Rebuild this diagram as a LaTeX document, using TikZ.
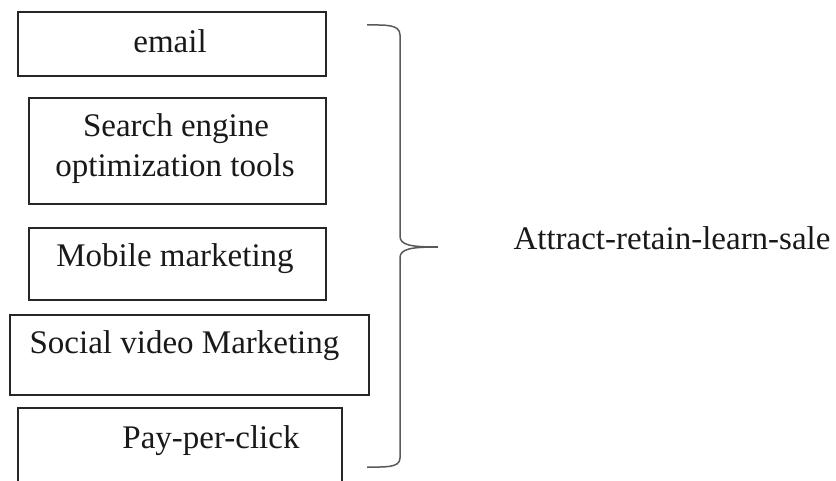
\documentclass[tikz,border=0pt]{standalone}
\usepackage{fontspec}
\setmainfont{Liberation Serif}
\begin{document}
\begin{tikzpicture}[x=1pt,y=-1pt,
  itembox/.style={draw=black!85, line width=1.7pt, inner sep=0pt, anchor=north west},
  lbl/.style={anchor=base, inner sep=0pt, text=black!90, font=\fontsize{33}{40}\selectfont},
  bracestyle/.style={draw=black!65, line width=1.5pt}]
\useasboundingbox (0,0) rectangle (836,481);
% boxes
\node[itembox, minimum width=308pt, minimum height=64pt] (b1) at (17,11) {};
\node[itembox, minimum width=297pt, minimum height=106pt] (b2) at (28,97) {};
\node[itembox, minimum width=297pt, minimum height=72pt] (b3) at (28,227) {};
\node[itembox, minimum width=359pt, minimum height=80pt] (b4) at (9,314) {};
\node[itembox, minimum width=324pt, minimum height=80pt] (b5) at (17,407) {};
% texts
\node[lbl] (t1) at (170,53) {email};
\node[lbl] (t2a) at (176,137) {Search engine};
\node[lbl] (t2b) at (175,177) {optimization tools};
\node[lbl] (t3) at (175,267) {Mobile marketing};
\node[lbl] (t4) at (184.5,353) {Social video Marketing};
\node[lbl] (t5) at (211,448) {Pay-per-click};
\node[lbl] (t6) at (672,250) {Attract-retain-learn-sale};
% brace
\coordinate (brtop) at (367,25);
\coordinate (brtip) at (438,247);
\coordinate (brbot) at (367,467);
\draw[bracestyle] (brtop) .. controls (385,25) and (400,24) .. (400,35)
  -- (400,236) .. controls (400,245) and (410,247) .. (brtip)
  .. controls (410,247) and (400,249) .. (400,258)
  -- (400,458) .. controls (400,468) and (385,467) .. (brbot);
\end{tikzpicture}
\end{document}
